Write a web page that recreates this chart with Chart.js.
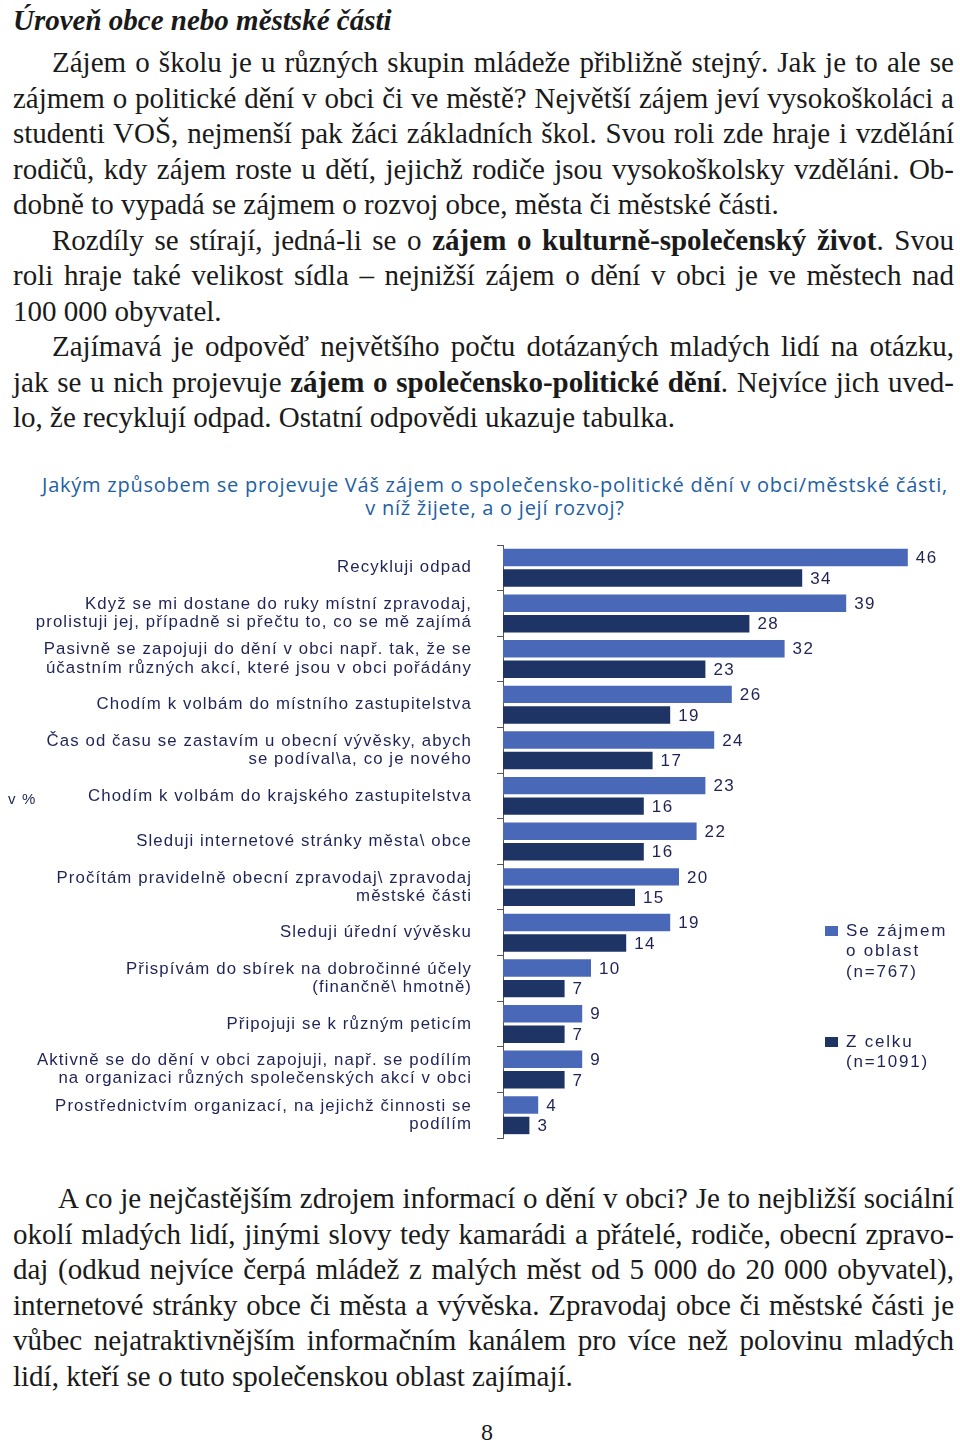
<!DOCTYPE html>
<html lang="cs">
<head>
<meta charset="utf-8">
<script src="https://cdn.jsdelivr.net/npm/chart.js@4.4.1/dist/chart.umd.min.js"></script>
<style>
  html, body { margin:0; padding:0; background:#fff; }
  body { width:960px; height:1449px; position:relative; overflow:hidden; }
  .serif { font-family:"Liberation Serif","Times New Roman",serif; font-size:29px; color:#1a1a1a; }
  .block { position:absolute; left:13px; width:941px; }
  .ln { height:35.5px; line-height:35.5px; white-space:normal; text-align:justify; text-align-last:justify; overflow:visible; }
  .ln.last { text-align:left; text-align-last:left; }
  .ind { text-indent:39px; }
  h1 { position:absolute; left:13px; top:2.5px; margin:0; font-weight:bold; font-style:italic; font-size:30px; line-height:35.5px; }
  #title { position:absolute; left:30px; width:930px; top:473px; text-align:center; font-family:"Open Sans","Noto Sans",sans-serif; font-size:20px; letter-spacing:0.75px; line-height:23px; color:#22609f; }
  #chartWrap { position:absolute; left:0; top:530px; width:960px; height:615px; }
  #pnum { position:absolute; left:0; width:974px; top:1418px; text-align:center; font-size:24px; line-height:28px; }
</style>
</head>
<body>
<h1 class="serif">Úroveň obce nebo městské části</h1>
<div class="block serif" style="top:45px">
  <div class="ln ind">Zájem o školu je u různých skupin mládeže přibližně stejný. Jak je to ale se</div>
  <div class="ln">zájmem o politické dění v obci či ve městě? Největší zájem jeví vysokoškoláci a</div>
  <div class="ln">studenti VOŠ, nejmenší pak žáci základních škol. Svou roli zde hraje i vzdělání</div>
  <div class="ln">rodičů, kdy zájem roste u dětí, jejichž rodiče jsou vysokoškolsky vzděláni. Ob-</div>
  <div class="ln last">dobně to vypadá se zájmem o rozvoj obce, města či městské části.</div>
  <div class="ln ind">Rozdíly se stírají, jedná-li se o <b>zájem o kulturně-společenský život</b>. Svou</div>
  <div class="ln">roli hraje také velikost sídla – nejnižší zájem o dění v obci je ve městech nad</div>
  <div class="ln last">100 000 obyvatel.</div>
  <div class="ln ind">Zajímavá je odpověď největšího počtu dotázaných mladých lidí na otázku,</div>
  <div class="ln">jak se u nich projevuje <b>zájem o společensko-politické dění</b>. Nejvíce jich uved-</div>
  <div class="ln last">lo, že recyklují odpad. Ostatní odpovědi ukazuje tabulka.</div>
</div>

<div id="title">Jakým způsobem se projevuje Váš zájem o společensko-politické dění v obci/městské části,<br>v níž žijete, a o její rozvoj?</div>

<div id="chartWrap"><canvas id="c"></canvas></div>

<div class="block serif" style="top:1181px">
  <div class="ln" style="text-indent:45px">A co je nejčastějším zdrojem informací o dění v obci? Je to nejbližší sociální</div>
  <div class="ln">okolí mladých lidí, jinými slovy tedy kamarádi a přátelé, rodiče, obecní zpravo-</div>
  <div class="ln">daj (odkud nejvíce čerpá mládež z malých měst od 5 000 do 20 000 obyvatel),</div>
  <div class="ln">internetové stránky obce či města a vývěska. Zpravodaj obce či městské části je</div>
  <div class="ln">vůbec nejatraktivnějším informačním kanálem pro více než polovinu mladých</div>
  <div class="ln last">lidí, kteří se o tuto společenskou oblast zajímají.</div>
</div>
<div id="pnum" class="serif">8</div>

<script>
// ---- data ----
const categories = [
  ["Recykluji odpad"],
  ["Když se mi dostane do ruky místní zpravodaj,", "prolistuji jej, případně si přečtu to, co se mě zajímá"],
  ["Pasivně se zapojuji do dění v obci např. tak, že se", "účastním různých akcí, které jsou v obci pořádány"],
  ["Chodím k volbám do místního zastupitelstva"],
  ["Čas od času se zastavím u obecní vývěsky, abych", "se podíval\\a, co je nového"],
  ["Chodím k volbám do krajského zastupitelstva"],
  ["Sleduji internetové stránky města\\ obce"],
  ["Pročítám pravidelně obecní zpravodaj\\ zpravodaj", "městské části"],
  ["Sleduji úřední vývěsku"],
  ["Přispívám do sbírek na dobročinné účely", "(finančně\\ hmotně)"],
  ["Připojuji se k různým peticím"],
  ["Aktivně se do dění v obci zapojuji, např. se podílím", "na organizaci různých společenských akcí v obci"],
  ["Prostřednictvím organizací, na jejichž činnosti se", "podílím"]
];
const interestValues = [46, 39, 32, 26, 24, 23, 22, 20, 19, 10, 9, 9, 4];
const totalValues    = [34, 28, 23, 19, 17, 16, 16, 15, 14, 7, 7, 7, 3];
const seriesNames = ["Se zájmem o oblast (n=767)", "Z celku (n=1091)"];
const legendLines = [["Se zájmem", "o oblast", "(n=767)"], ["Z celku", "(n=1091)"]];
const axisUnit = "v %";

// ---- style ----
const LIGHT = "#4a68b8";
const DARK = "#1e3465";
const TEXT = "#1f2355";
const FONT = "'Liberation Sans', Arial, sans-serif";

const spacingPlugin = {
  id: "spacing",
  beforeUpdate(chart) { chart.ctx.letterSpacing = "1.1px"; },
  beforeDraw(chart) { chart.ctx.letterSpacing = "1.1px"; }
};

const extrasPlugin = {
  id: "extras",
  afterDatasetsDraw(chart) {
    const ctx = chart.ctx;
    ctx.save();
    ctx.letterSpacing = "1.4px";
    ctx.font = "17px " + FONT;
    ctx.fillStyle = TEXT;
    ctx.textAlign = "left";
    ctx.textBaseline = "middle";
    chart.data.datasets.forEach((ds, di) => {
      const meta = chart.getDatasetMeta(di);
      meta.data.forEach((el, i) => {
        ctx.fillText(String(ds.data[i]), el.x + 8, el.y + 1);
      });
    });
    ctx.restore();
  },
  afterDraw(chart) {
    const ctx = chart.ctx;
    ctx.save();
    ctx.font = "15px " + FONT;
    ctx.letterSpacing = "1.2px";
    ctx.fillStyle = TEXT;
    ctx.textAlign = "left";
    ctx.textBaseline = "middle";
    ctx.fillText(axisUnit, 8, 800 - 530);
    // legend
    ctx.font = "17px " + FONT;
    ctx.letterSpacing = "1.8px";
    const tops = [926 - 530, 1037 - 530];
    chart.data.datasets.forEach((ds, di) => {
      ctx.fillStyle = ds.backgroundColor;
      ctx.fillRect(825, tops[di], 13, 10);
      ctx.fillStyle = TEXT;
      legendLines[di].forEach((t, k) => {
        ctx.fillText(t, 846, tops[di] + 5 + k * 20.7);
      });
    });
    ctx.restore();
  }
};

Chart.defaults.font.family = FONT;
Chart.defaults.color = TEXT;

new Chart(document.getElementById("c"), {
  type: "bar",
  data: {
    labels: categories,
    datasets: [
      { label: seriesNames[0], data: interestValues, backgroundColor: LIGHT, categoryPercentage: 0.9, barPercentage: 0.85 },
      { label: seriesNames[1], data: totalValues, backgroundColor: DARK, categoryPercentage: 0.9, barPercentage: 0.85 }
    ]
  },
  options: {
    indexAxis: "y",
    responsive: true,
    maintainAspectRatio: false,
    animation: false,
    layout: { padding: { top: 15, bottom: 7, left: 0, right: 17 } },
    plugins: { legend: { display: false }, tooltip: { enabled: false }, title: { display: false } },
    scales: {
      x: { display: false, min: 0, max: 50 },
      y: {
        offset: true,
        grid: { offset: true, drawOnChartArea: false, tickLength: 6, color: "#555", lineWidth: 1 },
        border: { display: true, color: "#555", width: 1 },
        ticks: { color: TEXT, padding: 25, font: { size: 16.8, lineHeight: 1.1 }, autoSkip: false },
        afterFit(scale) {
          scale.width = 503;
          scale.paddingTop = 0; scale.paddingBottom = 0;
        }
      }
    }
  },
  plugins: [spacingPlugin, extrasPlugin]
});
</script>
</body>
</html>
